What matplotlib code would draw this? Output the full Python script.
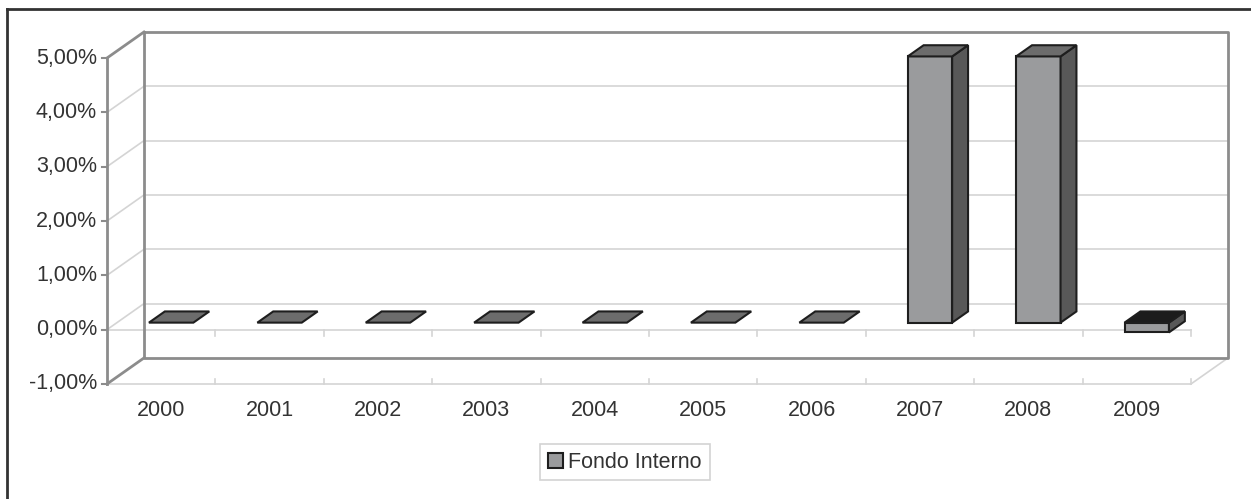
import numpy as np
import matplotlib.pyplot as plt
from matplotlib.patches import Polygon, Patch
from matplotlib.lines import Line2D

plt.rcParams['font.family'] = ['Liberation Sans', 'DejaVu Sans']

years = ['2000', '2001', '2002', '2003', '2004', '2005', '2006', '2007', '2008', '2009']
fondo_interno = [0.0, 0.0, 0.0, 0.0, 0.0, 0.0, 0.0, 4.9, 4.9, -0.18]
y_ticks = [-1, 0, 1, 2, 3, 4, 5]
y_labels = ['-1,00%', '0,00%', '1,00%', '2,00%', '3,00%', '4,00%', '5,00%']
series_name = 'Fondo Interno'

# depth offset of the back wall in data units (x in categories, y in percent)
DX = 0.341
DY = 0.479
ymin, ymax = -1, 5
ncat = len(years)

wall_col = '#8c8c8c'
grid_col = '#d4d4d4'
text_col = '#333333'
edge_col = '#1e1e1e'
front_col = '#9a9b9d'
side_col = '#585858'
top_col = '#6c6c6c'
fs = 15.5


def sh(x, y, f):
    return (x + f * DX, y + f * DY)


fig = plt.figure(figsize=(12.51, 4.99), dpi=100)
ax = fig.add_axes([0, 0, 1, 1])
ax.set_xlim(-0.987, 10.554)
ax.set_ylim(-3.117, 6.068)
ax.axis('off')

# back wall gridlines and side wall diagonals
for y in y_ticks:
    if ymin < y < ymax:
        ax.plot([DX, ncat + DX], [y + DY, y + DY], color=grid_col, lw=1.2, zorder=1)
        ax.plot([0, DX], [y, y + DY], color=grid_col, lw=1.2, zorder=1)
    ax.plot([-0.05, 0], [y, y], color=wall_col, lw=1.5, zorder=2)

# wall outlines
ax.plot([DX, ncat + DX, ncat + DX, DX, DX],
        [ymax + DY, ymax + DY, ymin + DY, ymin + DY, ymax + DY],
        color=wall_col, lw=2, zorder=2)
ax.plot([0, DX], [ymax, ymax + DY], color=wall_col, lw=2, zorder=2)
ax.plot([0, DX], [ymin, ymin + DY], color=wall_col, lw=2, zorder=2)
ax.plot([0, 0], [ymin, ymax], color=wall_col, lw=2, zorder=2)

# floor front edge and category axis at zero
ax.plot([0, ncat], [ymin, ymin], color=grid_col, lw=1.2, zorder=1)
ax.plot([ncat, ncat + DX], [ymin, ymin + DY], color=grid_col, lw=1.2, zorder=1)
ax.plot([0, ncat], [0, 0], color=grid_col, lw=1.2, zorder=1)
for i in range(1, ncat + 1):
    ax.plot([i, i], [0, -0.11], color=grid_col, lw=1.2, zorder=1)
    ax.plot([i, i], [ymin, ymin + 0.09], color=grid_col, lw=1.2, zorder=1)

# 3D columns
hw = 0.205
f0, f1 = 0.27, 0.70
for i, v in enumerate(fondo_interno):
    c = i + 0.5
    lo, hi = min(0, v), max(0, v)
    top = [sh(c - hw, hi, f0), sh(c + hw, hi, f0), sh(c + hw, hi, f1), sh(c - hw, hi, f1)]
    if hi > lo:
        front = [sh(c - hw, lo, f0), sh(c + hw, lo, f0), sh(c + hw, hi, f0), sh(c - hw, hi, f0)]
        side = [sh(c + hw, lo, f0), sh(c + hw, lo, f1), sh(c + hw, hi, f1), sh(c + hw, hi, f0)]
        ax.add_patch(Polygon(front, closed=True, fc=front_col, ec=edge_col, lw=1.5, zorder=5))
        ax.add_patch(Polygon(side, closed=True, fc=side_col, ec=edge_col, lw=1.5, zorder=5))
    tc = '#1c1c1c' if v < 0 else top_col
    ax.add_patch(Polygon(top, closed=True, fc=tc, ec=edge_col, lw=1.5, zorder=5))

# tick labels
for y, lab in zip(y_ticks, y_labels):
    ax.text(-0.092, y, lab, ha='right', va='center', fontsize=fs, color=text_col)
for i, yr in enumerate(years):
    ax.text(i + 0.5, -1.479, yr, ha='center', va='center', fontsize=fs, color=text_col)

handle = Patch(facecolor=front_col, edgecolor=edge_col, lw=1.5)
leg = ax.legend([handle], [series_name], loc='center', bbox_to_anchor=(0.4996, 0.074),
                fontsize=fs, frameon=True, fancybox=False, handlelength=0.7,
                handleheight=0.7, handletextpad=0.25, borderpad=0.35, borderaxespad=0)
leg.get_frame().set_edgecolor('#c8c8c8')
leg.get_frame().set_linewidth(1.2)
for t in leg.get_texts():
    t.set_color(text_col)

# outer frame (top and left edges)
fig.add_artist(Line2D([7 / 1251, 7 / 1251], [0, 1 - 9 / 499], color='#333333', lw=2))
fig.add_artist(Line2D([7 / 1251, 1], [1 - 9 / 499, 1 - 9 / 499], color='#333333', lw=2))

plt.savefig('out.png', dpi=100)
